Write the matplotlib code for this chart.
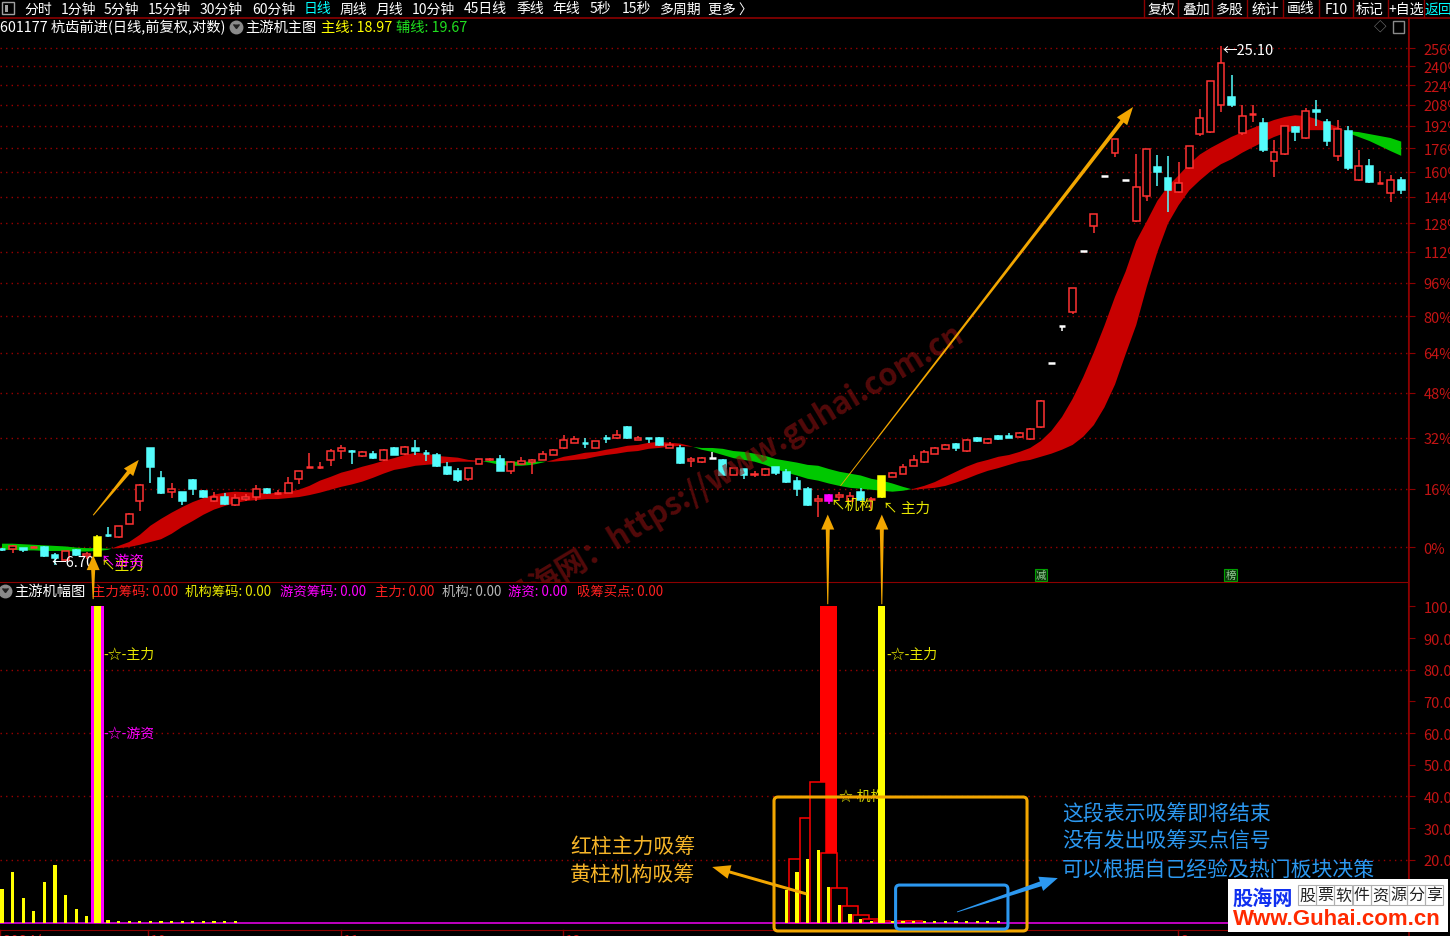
import matplotlib
matplotlib.use("Agg")
import matplotlib.pyplot as plt
import numpy as np
from matplotlib.patches import Polygon, Rectangle, FancyBboxPatch
from matplotlib.lines import Line2D
from matplotlib.transforms import IdentityTransform
from matplotlib.ticker import NullLocator, FixedLocator

plt.rcParams['font.family'] = ['Noto Sans CJK SC', 'DejaVu Sans']
plt.rcParams['axes.unicode_minus'] = False

# ---------------- 数据 ----------------
# 日K线 (前复权)
opens = [6.98, 6.97, 7.00, 7.00, 7.01, 6.87, 6.78, 6.96, 6.85, 6.85,
         7.23, 7.19, 7.44, 7.88, 9.02, 8.36, 8.06, 8.06, 8.32, 8.09,
         7.88, 7.97, 7.80, 7.92, 7.97, 8.13, 8.04, 8.05, 8.33, 8.58,
         8.59, 8.75, 8.95, 8.96, 8.84, 8.89, 8.75, 9.03, 8.89, 9.01,
         8.91, 8.87, 8.59, 8.50, 8.34, 8.66, 8.74, 8.78, 8.51, 8.66,
         8.71, 8.75, 8.86, 9.02, 9.14, 9.14, 9.02, 9.26, 9.24, 9.51,
         9.21, 9.26, 9.26, 9.03, 9.03, 8.73, 8.70, 8.79, 8.75, 8.43,
         8.55, 8.41, 8.42, 8.59, 8.49, 8.30, 8.13, 7.88, 7.88, 7.96,
         7.88, 8.06, 7.90, 7.96, 8.38, 8.45, 8.62, 8.70, 8.89, 9.00,
         9.12, 8.95, 9.26, 9.14, 9.30, 9.30, 9.28, 9.23, 9.51, 11.19,
         12.31, 12.75, 14.89, 15.86, 18.02, 19.10, 17.84, 16.07, 17.13, 18.44,
         17.93, 17.30, 18.39, 20.05, 20.15, 21.59, 22.03, 20.10, 21.10, 20.62,
         18.72, 19.05, 20.41, 19.85, 21.30, 20.67, 18.96, 20.20, 17.84, 18.48,
         17.68, 17.26, 17.84]
closes = [6.96, 7.03, 6.96, 7.01, 6.85, 6.82, 6.94, 6.87, 6.89, 7.19,
          7.21, 7.39, 7.63, 8.21, 8.59, 8.04, 8.13, 7.88, 8.13, 7.97,
          7.97, 7.82, 7.95, 7.97, 8.13, 8.05, 8.06, 8.26, 8.50, 8.59,
          8.61, 8.95, 9.02, 8.93, 8.92, 8.80, 8.98, 8.87, 9.05, 8.95,
          8.89, 8.62, 8.45, 8.31, 8.57, 8.77, 8.78, 8.51, 8.71, 8.73,
          8.75, 8.89, 8.98, 9.21, 9.23, 9.12, 9.17, 9.24, 9.33, 9.24,
          9.26, 9.25, 9.09, 9.09, 8.69, 8.78, 8.79, 8.79, 8.43, 8.57,
          8.41, 8.45, 8.56, 8.47, 8.28, 8.13, 7.80, 7.92, 8.01, 8.00,
          7.98, 7.91, 7.93, 8.39, 8.46, 8.59, 8.75, 8.93, 9.03, 9.09,
          9.03, 9.21, 9.18, 9.23, 9.23, 9.26, 9.37, 9.46, 10.17, 11.19,
          12.31, 13.54, 14.89, 16.38, 18.02, 19.82, 17.84, 17.52, 19.30, 18.20,
          17.38, 17.70, 19.45, 20.88, 22.95, 24.02, 21.59, 20.99, 21.15, 19.25,
          19.15, 20.46, 20.15, 21.26, 21.20, 19.70, 20.31, 18.39, 18.48, 17.75,
          17.73, 17.84, 17.38]
highs = [7.00, 7.04, 7.00, 7.02, 7.02, 6.91, 6.94, 6.97, 6.92, 7.22,
         7.38, 7.40, 7.64, 8.22, 9.03, 8.50, 8.24, 8.07, 8.33, 8.11,
         8.06, 8.05, 8.03, 8.03, 8.20, 8.15, 8.10, 8.38, 8.51, 8.91,
         8.70, 9.00, 9.09, 8.98, 8.95, 8.96, 9.00, 9.04, 9.06, 9.20,
         8.98, 8.90, 8.70, 8.57, 8.58, 8.78, 8.79, 8.87, 8.72, 8.81,
         8.76, 8.95, 9.00, 9.33, 9.31, 9.25, 9.18, 9.33, 9.45, 9.53,
         9.30, 9.26, 9.27, 9.16, 9.09, 8.82, 8.81, 8.92, 8.76, 8.58,
         8.56, 8.50, 8.58, 8.60, 8.55, 8.38, 8.17, 8.00, 8.02, 8.07,
         8.07, 8.15, 7.96, 8.40, 8.48, 8.66, 8.86, 8.98, 9.04, 9.10,
         9.14, 9.22, 9.28, 9.25, 9.33, 9.36, 9.40, 9.50, 10.20, 11.19,
         12.31, 13.54, 14.89, 16.38, 18.02, 19.82, 17.84, 19.05, 19.32, 19.01,
         18.96, 18.67, 19.46, 21.37, 22.97, 25.10, 23.30, 21.59, 21.59, 20.88,
         19.75, 20.48, 20.45, 21.45, 21.86, 20.83, 20.78, 20.46, 19.25, 18.81,
         18.25, 18.06, 17.97]
lows = [6.94, 6.90, 6.93, 6.99, 6.84, 6.70, 6.77, 6.85, 6.80, 6.85,
        7.19, 7.18, 7.43, 7.68, 8.25, 8.03, 7.95, 7.80, 8.01, 7.95,
        7.87, 7.80, 7.79, 7.88, 7.88, 8.03, 8.00, 8.04, 8.23, 8.57,
        8.54, 8.62, 8.77, 8.66, 8.82, 8.78, 8.73, 8.85, 8.87, 8.86,
        8.72, 8.60, 8.43, 8.28, 8.30, 8.65, 8.73, 8.50, 8.45, 8.65,
        8.45, 8.74, 8.85, 9.00, 9.13, 9.02, 9.01, 9.14, 9.22, 9.22,
        9.20, 9.14, 9.07, 9.02, 8.67, 8.59, 8.68, 8.79, 8.41, 8.41,
        8.34, 8.38, 8.40, 8.43, 8.26, 7.99, 7.79, 7.57, 7.82, 7.88,
        7.86, 7.90, 7.70, 7.94, 8.37, 8.44, 8.61, 8.69, 8.88, 8.99,
        8.95, 8.93, 9.16, 9.12, 9.21, 9.24, 9.26, 9.20, 9.48, 11.19,
        12.15, 12.70, 14.89, 15.59, 18.02, 18.91, 17.84, 16.05, 16.91, 17.57,
        16.44, 17.25, 18.35, 19.95, 20.10, 21.21, 21.50, 20.00, 20.67, 19.15,
        17.97, 19.02, 19.70, 19.80, 20.46, 19.45, 18.72, 18.30, 17.80, 17.70,
        17.65, 16.86, 17.22]

# 主线 / 辅线 (彩带)
main_line = [6.96, 6.96, 6.95, 6.95, 6.94, 6.94, 6.94, 6.93, 6.93, 6.94, 6.96,
             7.03, 7.10, 7.23, 7.40, 7.53, 7.65, 7.76, 7.86, 7.94, 8.01,
             8.05, 8.07, 8.06, 8.05, 8.03, 8.05, 8.07, 8.11, 8.19, 8.30,
             8.38, 8.47, 8.53, 8.60, 8.66, 8.73, 8.79, 8.86, 8.91, 8.89,
             8.84, 8.82, 8.80, 8.75, 8.73, 8.69, 8.64, 8.62, 8.62, 8.64,
             8.69, 8.75, 8.82, 8.86, 8.91, 8.93, 8.98, 9.02, 9.07, 9.09,
             9.14, 9.16, 9.14, 9.12, 9.06, 8.98, 8.93, 8.86, 8.79, 8.75,
             8.71, 8.64, 8.55, 8.47, 8.41, 8.34, 8.30, 8.24, 8.19, 8.15,
             8.13, 8.11, 8.09, 8.07, 8.09, 8.13, 8.19, 8.27, 8.38, 8.49,
             8.60, 8.69, 8.75, 8.82, 8.86, 8.93, 9.02, 9.18, 9.42, 9.76,
             10.22, 10.80, 11.50, 12.31, 13.25, 14.13, 15.27, 16.06, 16.92, 17.56,
             18.05, 18.57, 19.03, 19.35, 19.63, 19.91, 20.14, 20.36, 20.57, 20.78,
             20.94, 21.04, 20.99, 20.83, 20.62, 20.41, 20.10, 19.90, 19.70, 19.45,
             19.20, 18.97]
aux_line = [7.07, 7.07, 7.06, 7.05, 7.04, 7.03, 7.02, 7.00, 6.99, 6.99, 6.98,
            6.99, 7.01, 7.05, 7.10, 7.15, 7.25, 7.38, 7.49, 7.61, 7.71,
            7.78, 7.84, 7.88, 7.90, 7.92, 7.92, 7.94, 7.96, 8.00, 8.05,
            8.11, 8.17, 8.22, 8.28, 8.36, 8.45, 8.53, 8.57, 8.62, 8.64,
            8.66, 8.69, 8.71, 8.71, 8.71, 8.73, 8.73, 8.71, 8.71, 8.71,
            8.71, 8.71, 8.73, 8.75, 8.77, 8.82, 8.86, 8.89, 8.93, 8.95,
            9.00, 9.02, 9.05, 9.07, 9.05, 9.02, 9.02, 9.00, 8.95, 8.93,
            8.89, 8.84, 8.77, 8.73, 8.69, 8.64, 8.62, 8.55, 8.49, 8.45,
            8.41, 8.34, 8.30, 8.24, 8.17, 8.11, 8.13, 8.15, 8.19, 8.26,
            8.34, 8.43, 8.51, 8.57, 8.64, 8.71, 8.75, 8.82, 8.89, 8.98,
            9.09, 9.28, 9.56, 10.00, 10.60, 11.45, 12.33, 13.60, 14.85, 15.97,
            16.73, 17.37, 17.82, 18.23, 18.57, 18.81, 19.12, 19.39, 19.65, 19.90,
            20.10, 20.25, 20.25, 20.25, 20.25, 20.28, 20.20, 20.15, 20.05, 19.95,
            19.85, 19.67]

# 幅图
small_idx = [0, 1, 2, 3, 4, 5, 6, 7, 8,
             10, 11, 12, 13, 14, 15, 16, 17, 18, 19, 20, 21, 22,
             74, 75, 76, 77, 78, 79, 80, 81, 82,
             84, 85, 86, 87, 88, 89, 90, 91, 92, 93, 94]
small_val = [10.7, 16.2, 7.9, 3.8, 13.0, 18.4, 8.9, 4.4, 2.2,
             0.9, 0.6, 0.6, 0.6, 0.6, 0.5, 0.5, 0.5, 0.5, 0.5, 0.5, 0.5, 0.5,
             10.4, 16.1, 20.2, 23.0, 11.4, 5.7, 2.8, 1.3, 0.6,
             0.6, 0.6, 0.6, 0.6, 0.6, 0.6, 0.6, 0.6, 0.6, 0.6, 0.6]
hollow_idx = [75, 76, 77, 78, 79, 80, 81, 82, 83, 85, 86]
hollow_val = [20.2, 33.2, 44.5, 22.1, 11.1, 5.4, 2.5, 1.3, 0.6, 0.5, 0.5]
red_sig_idx = [78]
magenta_sig_idx = [9]
yellow_sig_idx = [9, 83]
sig_val = 100

base_price = 7.01
pct_ticks = list(range(0, 257, 16))
sub_ticks = list(range(20, 101, 10))

# ---------------- 样式 ----------------
RED = '#FF3232'
CYAN = '#54FCFC'
BAND_RED = '#C80000'
BAND_GREEN = '#00C800'
GRID = '#9A0000'
AXIS = '#8C0000'
LBL = '#C41414'
GOLD = '#F2A600'
BLUE = '#2C98F0'

W, H = 1450, 937
fig = plt.figure(figsize=(W / 100, H / 100), dpi=100, facecolor='black')


def fx(px):
    return px / W


def fy(py):
    return 1 - py / H


ax = fig.add_axes([0, fy(583), fx(1408), (583 - 19) / H])
ax2 = fig.add_axes([0, fy(930.7), fx(1408), (930.7 - 583) / H])
n = len(opens)
idx = np.arange(n)
for a in (ax, ax2):
    a.set_facecolor('black')
    for s in a.spines.values():
        s.set_visible(False)
    a.spines['right'].set_visible(True)
    a.spines['right'].set_color(AXIS)
    a.set_xlim(-0.19, 132.64)
    a.set_xticks([])
    a.yaxis.tick_right()
    a.tick_params(axis='y', direction='out', length=5, color=AXIS,
                  labelcolor=LBL, labelsize=10.5, pad=6)

# ---- 主图 ----
ax.set_yscale('log')
ax.set_ylim(6.413, 26.94)
tick_prices = [base_price * (1 + p / 100) for p in pct_ticks]
ax.yaxis.set_major_locator(FixedLocator(tick_prices))
ax.yaxis.set_minor_locator(NullLocator())
ax.set_yticklabels([f'{p}%' for p in pct_ticks])
for t in tick_prices:
    ax.axhline(t, color=GRID, lw=1, ls=(0, (1, 3)), zorder=0)

A = np.array(main_line)
B = np.array(aux_line)
ax.fill_between(idx, A, B, where=A >= B, interpolate=True, color=BAND_RED, lw=0, zorder=1)
ax.fill_between(idx, A, B, where=A <= B, interpolate=True, color=BAND_GREEN, lw=0, zorder=1)

signal_colors = {9: '#FFFF00', 78: '#FF00FF', 83: '#FFFF00'}
body_w = 0.64
for i in range(n):
    o, h, l, c = opens[i], highs[i], lows[i], closes[i]
    if i in signal_colors:
        col = face = signal_colors[i]
    elif c > o:
        col, face = RED, 'black'
    elif c < o:
        col, face = CYAN, CYAN
    else:
        col = face = 'white'
    if h > l:
        ax.vlines(i, l, h, color=col, lw=1.1, zorder=3)
    if abs(c - o) / o < 0.004:
        ax.hlines((o + c) / 2, i - body_w / 2, i + body_w / 2, color=col, lw=1.8, zorder=4)
    else:
        ax.bar(i, abs(c - o), bottom=min(o, c), width=body_w, facecolor=face,
               edgecolor=col, lw=1.1, zorder=4)

hi = int(np.argmax(highs))
ax.text(hi + 0.1, highs[hi] * 0.99, '←' + f'{highs[hi]:.2f}', color='white', fontsize=10.5,
        va='center', ha='left', zorder=6)
lo = int(np.argmin(lows))
ax.text(4.7, 6.75, '←' + f'{lows[lo]:.2f}', color='white', fontsize=10.5,
        va='center', ha='left', zorder=6)
ax.text(9.25, 6.70, '↖主力', color='#E8E800', fontsize=10.5, va='center', ha='left', zorder=6)
ax.text(9.25, 6.78, '↖游资', color='#FF00FF', fontsize=10.5, va='center', ha='left', zorder=6)
ax.text(78.2, 7.80, '↖机构', color='#E8E800', fontsize=10.5, va='center', ha='left', zorder=6)
ax.text(83.1, 7.74, '↖ 主力', color='#E8E800', fontsize=10.5, va='center', ha='left', zorder=6)
for xi, s in [(98.0, '减'), (115.9, '榜')]:
    ax.text(xi, 6.53, s, color='#9ACD9A', fontsize=7.5, va='center', ha='center', zorder=6,
            bbox=dict(boxstyle='square,pad=0.1', facecolor='#0A3A0A', edgecolor='#00A000', lw=0.8))

# 水印
ax.text(69.0, 8.59, '股海网：https://www.guhai.com.cn', rotation=31, rotation_mode='anchor',
        ha='center', va='center', fontsize=22, fontweight='bold', color='#8A1010',
        alpha=0.6, zorder=15)

# ---- 幅图 ----
ax2.set_ylim(-2.1, 107.7)
ax2.yaxis.set_major_locator(FixedLocator(sub_ticks))
ax2.set_yticklabels([f'{v:.1f}' for v in sub_ticks])
for s in ('top', 'bottom'):
    ax2.spines[s].set_visible(True)
    ax2.spines[s].set_color(AXIS)
for v in (20, 40, 60, 80):
    ax2.axhline(v, color=GRID, lw=1, ls=(0, (1, 3)), zorder=0)

ax2.bar(red_sig_idx, [sig_val] * len(red_sig_idx), width=1.6, color='#FF0000', lw=0, zorder=2)
ax2.bar(hollow_idx, hollow_val, width=1.5, facecolor='black', edgecolor='#FF0000', lw=1.1, zorder=3)
ax2.axhline(0, color='#E000E0', lw=1.2, zorder=3.5)
ax2.bar(small_idx, small_val, width=0.3, color='#FFFF00', lw=0, zorder=4)
ax2.bar(magenta_sig_idx, [sig_val] * len(magenta_sig_idx), width=1.2, color='#FF00FF', lw=0, zorder=5)
ax2.bar(yellow_sig_idx, [sig_val] * len(yellow_sig_idx), width=0.64, color='#FFFF00', lw=0, zorder=6)

ax2.text(9.6, 84.9, '-☆-主力', color='#E8E800', fontsize=10, va='center', ha='left', zorder=7)
ax2.text(9.6, 60.0, '-☆-游资', color='#FF00FF', fontsize=10, va='center', ha='left', zorder=7)
ax2.text(78.9, 40.1, '☆-机构', color='#D8D800', fontsize=10, va='center', ha='left', zorder=5.5)
ax2.text(83.4, 84.9, '-☆-主力', color='#E8E800', fontsize=10, va='center', ha='left', zorder=7)

ax2.text(53.6, 24.0, '红柱主力吸筹', color='#F5B428', fontsize=15, va='center', ha='left', zorder=7)
ax2.text(53.6, 15.2, '黄柱机构吸筹', color='#F5B428', fontsize=15, va='center', ha='left', zorder=7)
for v, s in [(34.7, '这段表示吸筹即将结束'), (25.9, '没有发出吸筹买点信号'),
             (17.1, '可以根据自己经验及热门板块决策')]:
    ax2.text(100.0, v, s, color=BLUE, fontsize=15, va='center', ha='left', zorder=7)


# ---- 箭头与框 ----
def taper_arrow(a, xy0, xy1, w0, w1, hw, hl, color):
    p0 = np.array(a.transData.transform(xy0))
    p1 = np.array(a.transData.transform(xy1))
    d = p1 - p0
    u = d / np.hypot(*d)
    nv = np.array([-u[1], u[0]])
    b = p1 - u * hl
    pts = [p0 + nv * w0 / 2, b + nv * w1 / 2, b + nv * hw / 2, p1,
           b - nv * hw / 2, b - nv * w1 / 2, p0 - nv * w0 / 2]
    fig.add_artist(Polygon(pts, closed=True, transform=IdentityTransform(),
                           facecolor=color, edgecolor='none', zorder=40))


def round_box(a, x0, y0, x1, y1, color, lw):
    p0 = a.transData.transform((x0, y0))
    p1 = a.transData.transform((x1, y1))
    fig.add_artist(FancyBboxPatch((min(p0[0], p1[0]), min(p0[1], p1[1])),
                                  abs(p1[0] - p0[0]), abs(p1[1] - p0[1]),
                                  boxstyle='round,pad=0,rounding_size=4',
                                  transform=IdentityTransform(), fill=False,
                                  edgecolor=color, lw=lw, zorder=39))


taper_arrow(ax, (8.6, 7.60), (12.9, 8.75), 1.0, 4.0, 12, 16, GOLD)
taper_arrow(ax, (79.1, 8.19), (106.7, 21.48), 0.8, 4.0, 13, 18, GOLD)
taper_arrow(ax2, (8.6, 102.3), (8.6, 116.2), 1.0, 4.0, 13, 15, GOLD)
taper_arrow(ax2, (77.9, 100.7), (77.9, 129.0), 1.0, 4.0, 13, 15, GOLD)
taper_arrow(ax2, (83.0, 100.7), (83.0, 129.0), 1.0, 4.0, 13, 15, GOLD)
taper_arrow(ax2, (75.9, 9.2), (67.0, 17.7), 3.0, 3.0, 14, 18, GOLD)
taper_arrow(ax2, (90.1, 3.5), (99.6, 14.2), 0.8, 5.0, 15, 18, BLUE)
round_box(ax2, 72.83, 39.8, 96.70, -2.5, GOLD, 2.2)
round_box(ax2, 84.3, 12.0, 94.9, -1.9, BLUE, 2.2)


# ---- 标题栏 ----
def T(x, y, s, color='white', size=10, **kw):
    fig.text(fx(x), fy(y), s, color=color, fontsize=size, va='center', **kw)


fig.add_artist(Line2D([0, 1], [fy(18.5), fy(18.5)], color=AXIS, lw=1.2))
fig.add_artist(Line2D([fx(1408.5)] * 2, [fy(19), 0], color=AXIS, lw=1.2))
fig.add_artist(Rectangle((fx(2), fy(15)), fx(12), 12 / H, fill=False, edgecolor='#A0A0A0', lw=1))
fig.add_artist(Rectangle((fx(5), fy(12.5)), fx(3), 7 / H, color='#A0A0A0', lw=0))
tabs = [('分时', 24), ('1分钟', 61), ('5分钟', 104), ('15分钟', 148), ('30分钟', 200),
        ('60分钟', 252), ('日线', 304), ('周线', 340), ('月线', 376), ('10分钟', 412),
        ('45日线', 464), ('季线', 516), ('年线', 552), ('5秒', 590), ('15秒', 622),
        ('多周期', 660), ('更多 〉', 708)]
for s, x in tabs:
    T(x, 9.5, s, '#00FFFF' if s == '日线' else 'white', 10)
buttons = [('复权', 1161), ('叠加', 1196), ('多股', 1230), ('统计', 1265), ('画线', 1301),
           ('F10', 1336), ('标记', 1370), ('+自选', 1406), ('返回', 1438)]
for s, x in buttons:
    T(x, 9.5, s, '#00FFFF' if s == '返回' else 'white', 10, ha='center')
for x in (1144, 1178, 1212, 1247, 1283, 1319, 1353, 1388, 1424):
    fig.add_artist(Line2D([fx(x)] * 2, [fy(0), fy(18)], color=AXIS, lw=1))

T(0, 28, '601177 杭齿前进(日线,前复权,对数)', 'white', 10.3)
fig.add_artist(Line2D([fx(236)], [fy(28)], marker='o', ms=9, color='#8A8A8A', lw=0))
fig.add_artist(Line2D([fx(236)], [fy(29)], marker=7, ms=4, color='#202020', lw=0))
T(245, 28, '主游机主图', 'white', 10.3)
T(321, 28, f'主线: {main_line[-1]:.2f}', '#FFFF00', 10.3)
T(396, 28, f'辅线: {aux_line[-1]:.2f}', '#20E020', 10.3)
T(1374, 28, '◇', '#8A8A8A', 9)
fig.add_artist(Rectangle((fx(1393), fy(34)), fx(11), 12 / H, fill=False, edgecolor='#8A8A8A', lw=1))

fig.add_artist(Line2D([fx(5)], [fy(592)], marker='o', ms=9, color='#8A8A8A', lw=0))
fig.add_artist(Line2D([fx(5)], [fy(593)], marker=7, ms=4, color='#202020', lw=0))
T(14, 592, '主游机幅图', 'white', 10.3)
legend_items = [('主力筹码: 0.00', '#FF2020', 92), ('机构筹码: 0.00', '#E8E800', 185),
                ('游资筹码: 0.00', '#FF00FF', 280), ('主力: 0.00', '#FF2020', 375),
                ('机构: 0.00', '#B8B8B8', 442), ('游资: 0.00', '#FF00FF', 508),
                ('吸筹买点: 0.00', '#FF2020', 577)]
for s, c, x in legend_items:
    T(x, 592, s, c, 9.6)

# 日期轴 (被截断)
for s, x in [('2024年', 2), ('10', 150), ('11', 343), ('12', 565), ('2', 1180)]:
    T(x, 943, s, '#D01010', 11)
    fig.add_artist(Line2D([fx(x - 2)] * 2, [fy(931), fy(937)], color=AXIS, lw=1))

# 右下角标识
fig.add_artist(Rectangle((fx(1228), fy(933)), fx(220), 53 / H, facecolor='white',
                         edgecolor='none', zorder=50))
fig.text(fx(1232), fy(898), '股海网', color='#1030F0', fontsize=14.5, fontweight='bold',
         va='center', zorder=51)
for k, ch in enumerate('股票软件资源分享'):
    cx = 1307 + k * 18.2
    fig.add_artist(Rectangle((fx(cx - 9), fy(906)), fx(18), 20 / H, fill=False,
                             edgecolor='#B0B0B0', lw=0.8, zorder=51))
    fig.text(fx(cx), fy(896), ch, color='#202020', fontsize=11.5, ha='center',
             va='center', zorder=52)
fig.text(fx(1233), fy(920), 'Www.Guhai.com.cn', color='#FF2A00', fontsize=16,
         fontweight='bold', family='Liberation Sans', va='center', zorder=51)

fig.savefig('out.png', dpi=100, facecolor='black')
